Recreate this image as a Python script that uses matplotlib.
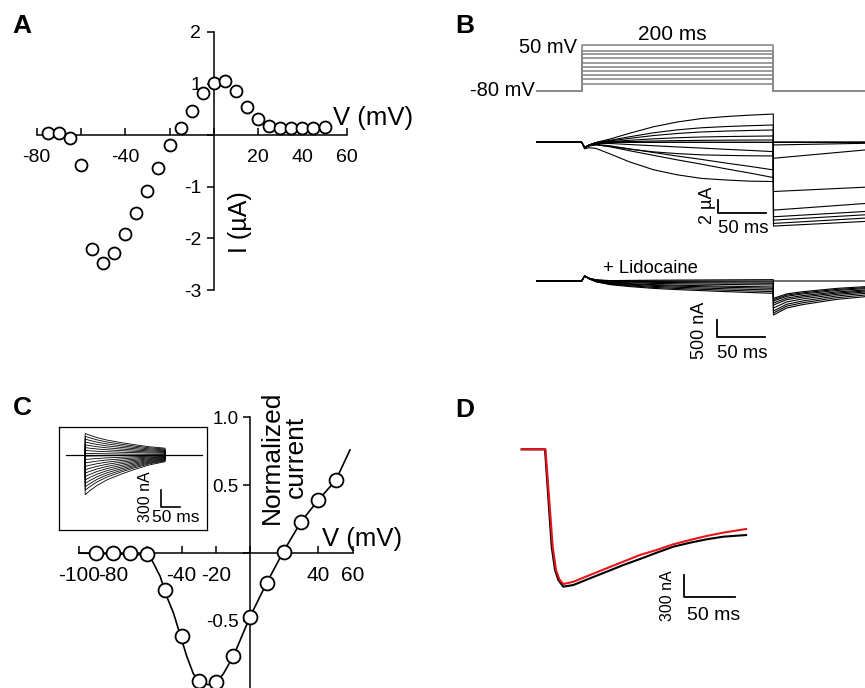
import matplotlib.pyplot as plt

plt.rcParams['font.family'] = ['Liberation Sans', 'DejaVu Sans']

# ---- panel A: I-V of the outward/inward current
a_voltage = [-75, -70, -65, -60, -55, -50, -45, -40, -35, -30, -25, -20, -15,
             -10, -5, 0, 5, 10, 15, 20, 25, 30, 35, 40, 45, 50]
a_current = [0.04, 0.04, -0.05, -0.57, -2.2, -2.48, -2.28, -1.91, -1.5, -1.09,
             -0.63, -0.19, 0.13, 0.46, 0.81, 1.02, 1.05, 0.86, 0.55, 0.32,
             0.18, 0.13, 0.13, 0.13, 0.14, 0.16]
a_xticks = [-80, -60, -40, -20, 0, 20, 40, 60]
a_xticklabels = ['-80', '', '-40', '', '', '20', '40', '60']
a_yticks = [-3, -2, -1, 0, 1, 2]
a_yticklabels = ['-3', '-2', '-1', '', '1', '2']

# ---- panel B: protocol (mV) and currents
step_mV = [-60, -48, -35, -23, -12, 0, 12, 24, 34, 50]
hold_mV = -80
t_step = [0, 3, 8, 15, 30, 50, 75, 100, 125, 150, 175, 200]
onset_blip = [0, -0.8, -0.4, -0.1, 0, 0, 0, 0, 0, 0, 0, 0]
shape_out = [0, 0, 0, 0.02, 0.12, 0.32, 0.55, 0.72, 0.84, 0.91, 0.96, 1.0]
shape_in = [0, 0.03, 0.07, 0.14, 0.3, 0.5, 0.7, 0.83, 0.92, 0.96, 0.99, 1.0]
shape_lin = [0, 0, 0.02, 0.05, 0.13, 0.24, 0.37, 0.5, 0.62, 0.75, 0.87, 1.0]
b_end_uA = [4.25, 2.6, 1.85, 0.95, 0.35, 0.0, 0.0, -1.4, -2.05, -4.15, -5.3, -5.9]
b_kinetics = ['out', 'out', 'out', 'out', 'out', 'out', 'out', 'lin', 'in', 'lin', 'lin', 'in']
b_tail_start_uA = [-12.6, -12.2, -11.7, -11.2, -10.2, -7.4, 0.0, -2.4, -0.4, 0.0, 0.0, 0.0]
b_tail_end_uA = [-11.9, -11.4, -10.9, -10.4, -9.2, -6.75, 0.0, -1.15, -0.15, 0.0, 0.0, 0.0]

shape_lido = [0, 0, 0.05, 0.15, 0.3, 0.45, 0.6, 0.7, 0.78, 0.86, 0.93, 1.0]
lido_blip = [0, 150, 80, 30, 0, 0, 0, 0, 0, 0, 0, 0]
lido_end_nA = [40, 0, -30, -70, -120, -180, -220, -270, -320, -370]
lido_tail_start_nA = [0, -520, -560, -600, -660, -720, -810, -900, -960, -1020]
lido_tail_end_nA = [0, -170, -200, -230, -270, -300, -330, -370, -420, -470]
t_tail = [200.2, 214, 231, 266, 296]
tail_frac = [1.0, 0.62, 0.43, 0.15, 0.0]

# ---- panel C: normalized I-V, fit and inset traces
c_voltage = [-90, -80, -70, -60, -50, -40, -30, -20, -10, 0, 10, 20, 30, 40, 50]
c_current = [0, 0, 0, -0.01, -0.27, -0.61, -0.94, -0.95, -0.76, -0.47, -0.22,
             0.01, 0.23, 0.39, 0.535]
c_fit_v = [-100, -60.4, -57.5, -52.6, -48.7, -44.8, -40.9, -37, -33.1, -29.2,
           -24.4, -19.5, -15.6, -9.7, 0, 9.75, 19.5, 29.8, 39.9, 50.1, 58.5]
c_fit_i = [0, -0.013, -0.049, -0.17, -0.32, -0.44, -0.60, -0.76, -0.89, -0.95,
           -0.97, -0.95, -0.89, -0.76, -0.47, -0.22, 0.01, 0.23, 0.39, 0.535, 0.76]
c_xticks = [-100, -80, -60, -40, -20, 0, 20, 40, 60]
c_xticklabels = ['-100', '-80', '', '-40', '-20', '', '', '40', '60']
c_yticks = [-0.5, 0, 0.5, 1.0]
c_yticklabels = ['-0.5', '', '0.5', '1.0']

in_peak_nA = [380, 330, 280, 230, 180, 130, 80, 30, -20, -80, -140, -200, -260,
              -320, -380, -440, -500, -560, -620, -700]
in_end_nA = [120, 105, 90, 75, 60, 45, 30, 10, -5, -15, -25, -35, -45, -55, -65,
             -75, -85, -95, -105, -118]
in_t = [0.5, 10, 30, 55, 90, 120, 160, 200]
in_frac = [1.0, 0.9, 0.72, 0.55, 0.38, 0.25, 0.1, 0.0]

# ---- panel D: two superimposed traces
d_time_black = [0, 23, 29.6, 32.9, 36.2, 41.1, 51, 67.5, 83.9, 100.4, 116.8,
                133.3, 149.7, 166.2, 182.6, 199.1, 221.5]
d_black_nA = [0, 0, -1344, -1666, -1804, -1896, -1873, -1780, -1689, -1597,
              -1514, -1427, -1344, -1289, -1242, -1206, -1183]
d_time_red = [0, 23.5, 30.6, 33.9, 37.2, 41.1, 51, 67.5, 83.9, 100.4, 116.8,
              133.3, 149.7, 166.2, 182.6, 199.1, 221.5]
d_red_nA = [0, 0, -1344, -1666, -1795, -1860, -1828, -1734, -1642, -1550,
            -1458, -1389, -1311, -1251, -1196, -1150, -1100]

W, H = 865, 688
fig = plt.figure(figsize=(W / 100, H / 100), dpi=100)


def px_axes(x0, y0, x1, y1):
    return fig.add_axes([x0 / W, 1 - y1 / H, (x1 - x0) / W, (y1 - y0) / H])


def trace_axes(x0, y0, x1, y1, t0_px, px_per_ms, ref_px, px_per_unit, ref_val=0):
    ax = px_axes(x0, y0, x1, y1)
    ax.set_xlim((x0 - t0_px) / px_per_ms, (x1 - t0_px) / px_per_ms)
    ax.set_ylim(ref_val + (ref_px - y1) / px_per_unit, ref_val + (ref_px - y0) / px_per_unit)
    ax.axis('off')
    return ax


def ptext(x, y, s, **kw):
    return fig.text(x / W, 1 - y / H, s, **kw)


def cross_axes(ax):
    ax.patch.set_visible(False)
    for s in ['top', 'right']:
        ax.spines[s].set_visible(False)
    for s in ['left', 'bottom']:
        ax.spines[s].set_position(('data', 0))
        ax.spines[s].set_linewidth(1.1)


# A
axA = px_axes(36.7, 32, 346.7, 290)
axA.set_xlim(-80, 60)
axA.set_ylim(-3, 2)
cross_axes(axA)
axA.plot(a_voltage, a_current, 'o', ms=8.6, mfc='white', mec='black', mew=1.3,
         clip_on=False, zorder=4)
axA.set_xticks(a_xticks)
axA.set_xticklabels(a_xticklabels)
axA.set_yticks(a_yticks)
axA.set_yticklabels(a_yticklabels)
axA.tick_params(axis='x', direction='in', length=5, width=1.1, pad=10, labelsize=14)
axA.tick_params(axis='y', direction='out', length=5, width=1.1, pad=4, labelsize=14)
ptext(12.7, 33.3, 'A', fontsize=19, fontweight='bold', va='baseline')
ptext(333, 125, 'V (mV)', fontsize=18.5, va='baseline')
ptext(240, 222, 'I (\u00b5A)', fontsize=18, rotation=90, ha='center', va='center')

# B protocol
axBv = trace_axes(530, 30, 865, 100, 581.7, 0.958, 90.7, 0.3515, hold_mV)
for v in step_mV:
    axBv.plot([-46.7, 0, 0, 200, 200, 300], [hold_mV, hold_mV, v, v, hold_mV, hold_mV],
              color='#8a8a8a', lw=1.2)
ptext(455, 33, 'B', fontsize=19, fontweight='bold', va='baseline')
ptext(577, 53.3, '50 mV', fontsize=14.5, ha='right', va='baseline')
ptext(535, 96, '-80 mV', fontsize=14.5, ha='right', va='baseline')
ptext(672.5, 40, '200 ms', fontsize=15, ha='center', va='baseline')

# B currents
shapes = {'out': shape_out, 'in': shape_in, 'lin': shape_lin}
axBi = trace_axes(530, 100, 865, 245, 581.7, 0.958, 142.3, 6.65)
for amp, kin, ts, te in zip(b_end_uA, b_kinetics, b_tail_start_uA, b_tail_end_uA):
    ys = [amp * k + b for k, b in zip(shapes[kin], onset_blip)]
    axBi.plot([-47] + t_step + [200.2, 296], [0] + ys + [ts, te], color='black', lw=0.8)
axBi.plot([142, 142, 192], [-8.68, -10.68, -10.68], color='black', lw=1.3)
ptext(708, 205.7, '2 \u00b5A', fontsize=13, rotation=90, ha='center', va='center')
ptext(718, 232.7, '50 ms', fontsize=13.3, va='baseline')

# B lidocaine
axBl = trace_axes(530, 250, 865, 350, 581.7, 0.958, 281, 0.0333)
for amp, ts, te in zip(lido_end_nA, lido_tail_start_nA, lido_tail_end_nA):
    ys = [amp * k + b for k, b in zip(shape_lido, lido_blip)]
    tail = [te + (ts - te) * f for f in tail_frac]
    axBl.plot([-47] + t_step + t_tail, [0] + ys + tail, color='black', lw=0.8)
axBl.plot([141, 141, 191], [-1170, -1670, -1670], color='black', lw=1.3)
ptext(603.3, 273.3, '+ Lidocaine', fontsize=13.3, va='baseline')
ptext(700, 330, '500 nA', fontsize=13, rotation=90, ha='center', va='center')
ptext(716.7, 357.5, '50 ms', fontsize=13.3, va='baseline')

# C
axC = px_axes(79, 417.3, 352.6, 688.8)
axC.set_xlim(-100, 60)
axC.set_ylim(-1, 1)
cross_axes(axC)
axC.plot(c_fit_v, c_fit_i, color='black', lw=1.2, clip_on=False, zorder=3)
axC.plot(c_voltage, c_current, 'o', ms=10, mfc='white', mec='black', mew=1.3,
         clip_on=False, zorder=4)
axC.set_xticks(c_xticks)
axC.set_xticklabels(c_xticklabels)
axC.set_yticks(c_yticks)
axC.set_yticklabels(c_yticklabels)
axC.tick_params(axis='x', direction='in', length=5, width=1.1, pad=9, labelsize=15)
axC.tick_params(axis='y', direction='out', length=5, width=1.1, pad=3, labelsize=13.5)
ptext(12.7, 415, 'C', fontsize=19, fontweight='bold', va='baseline')
ptext(322, 545.7, 'V (mV)', fontsize=18.5, va='baseline')
ptext(284, 457, 'Normalized\ncurrent', fontsize=19, rotation=90, ha='center',
      va='center', multialignment='center', linespacing=1.0)

# C inset
axIn = trace_axes(59.3, 427.3, 206.7, 530, 85, 0.4, 455, 0.0567)
axIn.axis('on')
axIn.set_xticks([])
axIn.set_yticks([])
for s in axIn.spines.values():
    s.set_linewidth(0.9)
axIn.plot([-47.5, 292], [0, 0], color='black', lw=0.9)
for pk, en in zip(in_peak_nA, in_end_nA):
    ys = [en + (pk - en) * f for f in in_frac]
    axIn.plot([0] + in_t + [200], [0] + ys + [0], color='black', lw=0.6)
axIn.plot([189, 189, 237.5], [-620, -920, -920], color='black', lw=1.2)
ptext(145, 496.7, '300 nA', fontsize=11.5, rotation=90, ha='center', va='center')
ptext(151.7, 521.7, '50 ms', fontsize=12.5, va='baseline')

# D
axD = trace_axes(500, 430, 780, 640, 521.7, 1.013, 449.3, 0.07246)
axD.plot(d_time_black, d_black_nA, color='black', lw=1.5)
axD.plot(d_time_red, d_red_nA, color='#e8141c', lw=1.5)
axD.plot([160.5, 160.5, 210.5], [-1735, -2035, -2035], color='black', lw=1.3)
ptext(455, 417, 'D', fontsize=19, fontweight='bold', va='baseline')
ptext(668, 596, '300 nA', fontsize=11.5, rotation=90, ha='center', va='center')
ptext(686.7, 620, '50 ms', fontsize=14, va='baseline')

fig.savefig('out.png', dpi=100)
